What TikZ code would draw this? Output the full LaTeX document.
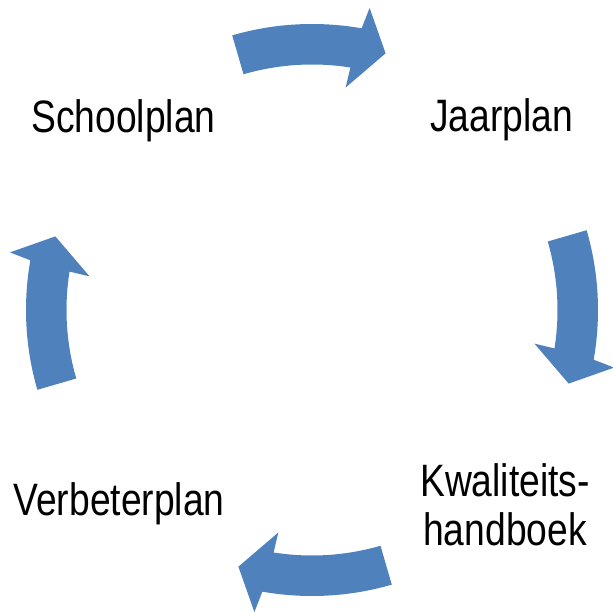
\documentclass[tikz,border=0pt]{standalone}
\usepackage{fontspec}
\setmainfont{Liberation Sans}[FakeStretch=0.82]
\definecolor{arrowblue}{HTML}{4F81BD}
\begin{document}
\begin{tikzpicture}[x=1pt,y=1pt,
  lbl/.style={inner sep=0pt, anchor=base, font=\fontsize{45.4pt}{48.5pt}\selectfont, align=center},
  cyclearrow/.style={fill=arrowblue, draw=none}]
\useasboundingbox (0,0) rectangle (613,611);
\coordinate (c) at (312,301);
\begin{scope}[shift={(c)}]
\foreach \t in {90,0,-90,180}{
  \path[cyclearrow]
    (\t+16.2:286pt) arc[start angle=\t+16.2, end angle=\t-10, radius=286pt]
    -- (\t-10.8:307.5pt) -- (\t-16:267pt) -- (\t-8.6:225pt) -- (\t-9:245.5pt)
    arc[start angle=\t-9, end angle=\t+16.2, radius=245.5pt] -- cycle;
}
\end{scope}
\node[lbl] (school) at (123.4,478.3) {Schoolplan};
\node[lbl] (jaar) at (501.5,479.3) {Jaarplan};
\node[lbl] (kwal) at (505,66) {Kwaliteits-\\handboek};
\node[lbl] (verb) at (119,96) {Verbeterplan};
\end{tikzpicture}
\end{document}
